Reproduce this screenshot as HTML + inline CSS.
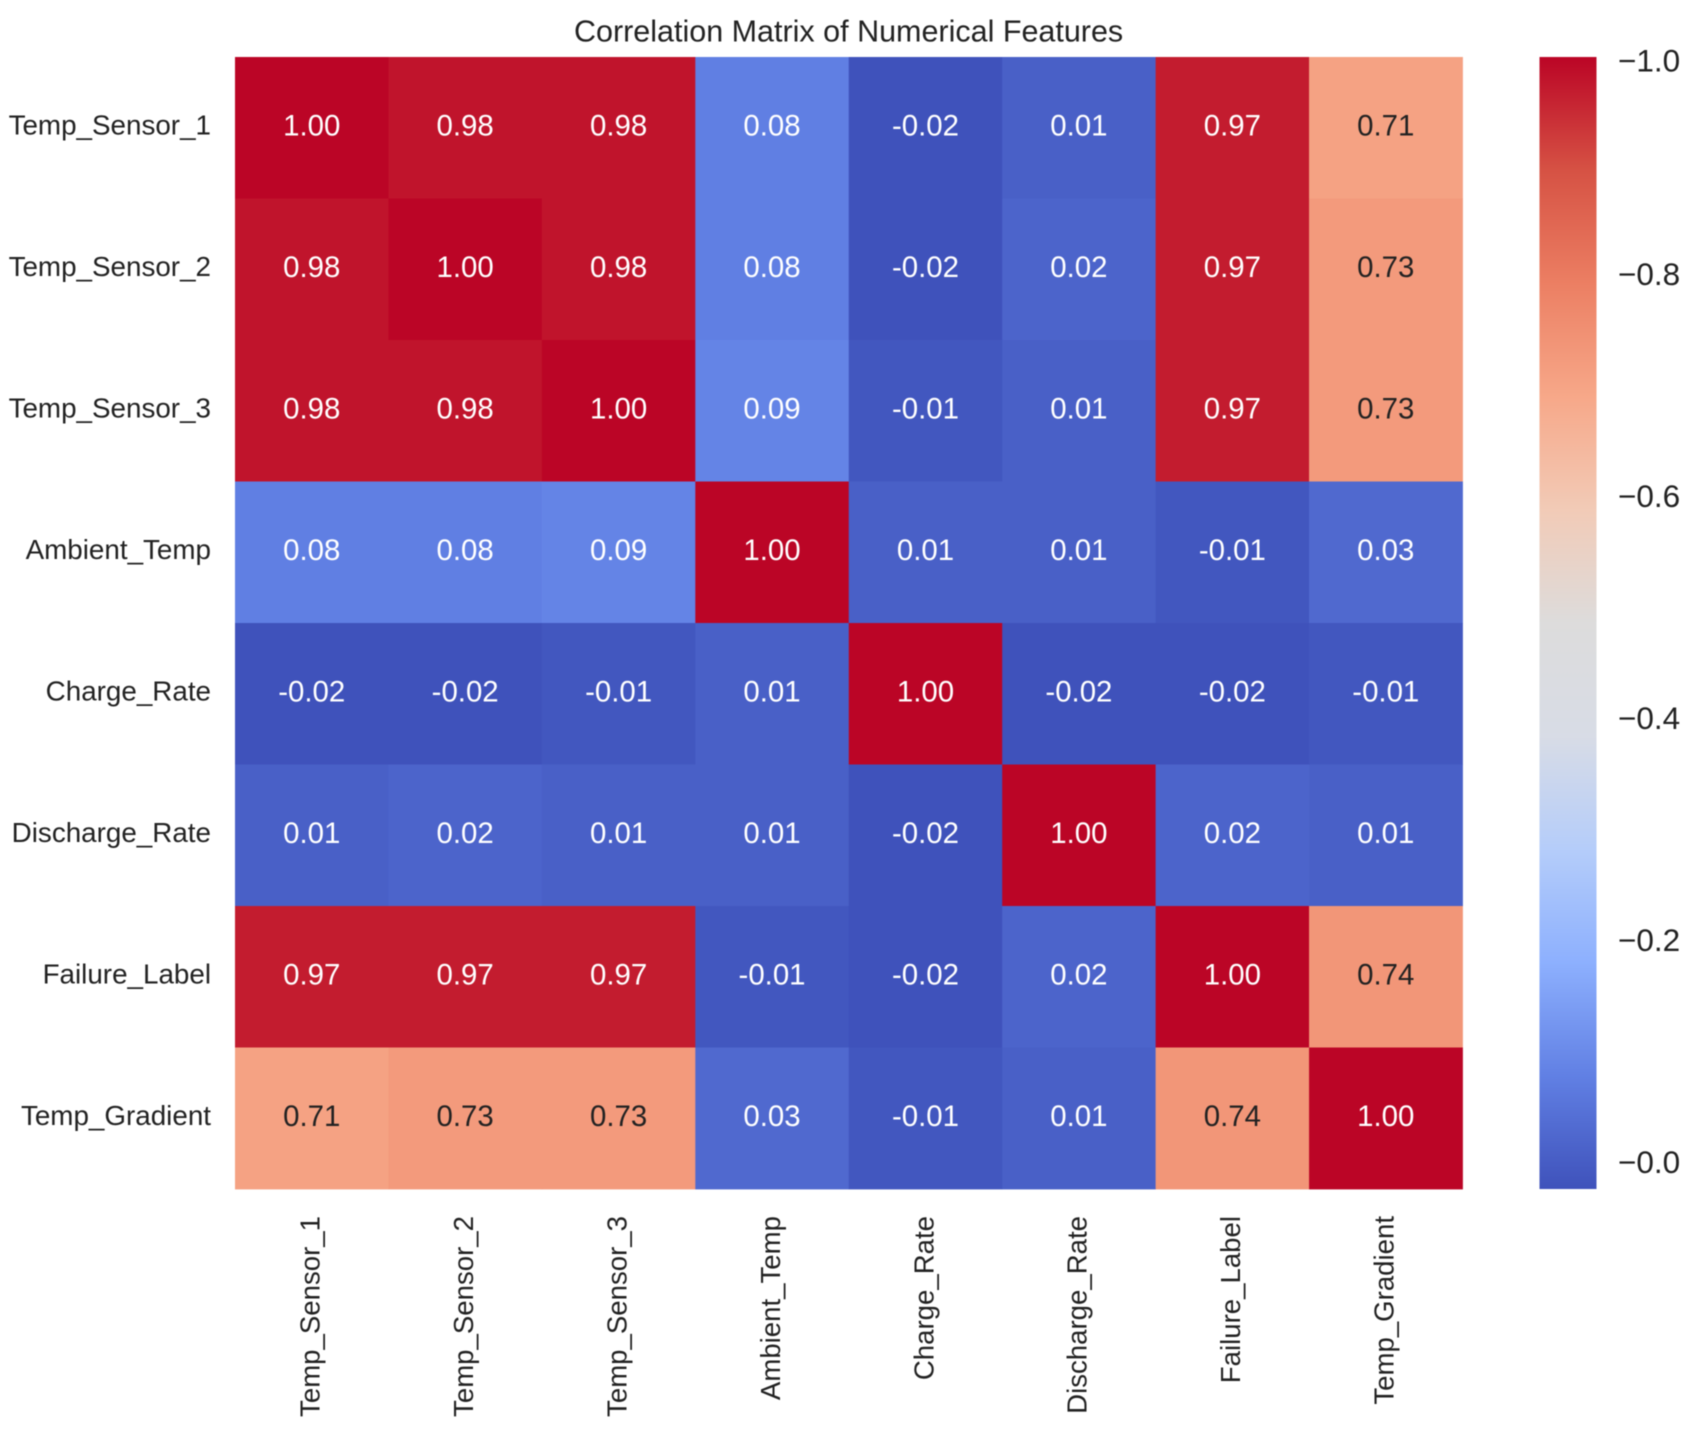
<!DOCTYPE html>
<html lang="en">
<head>
<meta charset="utf-8">
<title>Correlation Matrix of Numerical Features</title>
<style>
html,body{margin:0;padding:0;background:#fff;}
body{width:1701px;height:1431px;overflow:hidden;}
svg{display:block;filter:blur(0.6px);}
text{font-family:"Liberation Sans",sans-serif;}
</style>
</head>
<body>
<svg id="chart" width="1701" height="1431" viewBox="0 0 1701 1431" xmlns="http://www.w3.org/2000/svg">
<defs><linearGradient id="cbar-gradient" x1="0" y1="1" x2="0" y2="0"></linearGradient></defs>
<rect x="0" y="0" width="1701" height="1431" fill="#ffffff"></rect>
<text x="848.6" y="41.5" text-anchor="middle" font-size="30.5" fill="#222222">Correlation Matrix of Numerical Features</text>
<g id="cells"></g>
<g id="annotations"></g>
<g id="y-labels"></g>
<g id="x-labels"></g>
<rect id="cbar" x="1539.5" y="57" width="57" height="1132" fill="url(#cbar-gradient)"></rect>
<g id="cbar-ticks"></g>
</svg>
<script>
const features = ["Temp_Sensor_1","Temp_Sensor_2","Temp_Sensor_3","Ambient_Temp","Charge_Rate","Discharge_Rate","Failure_Label","Temp_Gradient"];
const rowTempSensor1 = [1.00,0.98,0.98,0.08,-0.02,0.01,0.97,0.71];
const rowTempSensor2 = [0.98,1.00,0.98,0.08,-0.02,0.02,0.97,0.73];
const rowTempSensor3 = [0.98,0.98,1.00,0.09,-0.01,0.01,0.97,0.73];
const rowAmbientTemp = [0.08,0.08,0.09,1.00,0.01,0.01,-0.01,0.03];
const rowChargeRate = [-0.02,-0.02,-0.01,0.01,1.00,-0.02,-0.02,-0.01];
const rowDischargeRate = [0.01,0.02,0.01,0.01,-0.02,1.00,0.02,0.01];
const rowFailureLabel = [0.97,0.97,0.97,-0.01,-0.02,0.02,1.00,0.74];
const rowTempGradient = [0.71,0.73,0.73,0.03,-0.01,0.01,0.74,1.00];
const matrix = [rowTempSensor1,rowTempSensor2,rowTempSensor3,rowAmbientTemp,rowChargeRate,rowDischargeRate,rowFailureLabel,rowTempGradient];
const colorbarTicks = [1.0,0.8,0.6,0.4,0.2,0.0];

const NS = "http://www.w3.org/2000/svg";
const plot = {left:235, top:57, right:1462.5, bottom:1189};
const cbarBox = {top:57, bottom:1189, labelX:1618};
const domainMin = -0.02, domainMax = 1.0;
const ramp = [[63,82,187],[97,128,228],[141,176,254],[181,205,250],[216,220,230],[221,220,220],[242,203,183],[247,168,137],[236,127,99],[214,82,68],[187,5,38]];

function colormap(v){
  const t = Math.min(1, Math.max(0, (v - domainMin) / (domainMax - domainMin))) * (ramp.length - 1);
  const i = Math.min(ramp.length - 2, Math.floor(t));
  const f = t - i;
  return ramp[i].map((c, k) => Math.round(c + (ramp[i + 1][k] - c) * f));
}
function rgb(c){ return "rgb(" + c.join(",") + ")"; }
function luminance(c){
  const l = c.map(x => { const s = x / 255; return s <= 0.03928 ? s / 12.92 : Math.pow((s + 0.055) / 1.055, 2.4); });
  return 0.2126 * l[0] + 0.7152 * l[1] + 0.0722 * l[2];
}
const cellW = (plot.right - plot.left) / features.length;
const cellH = (plot.bottom - plot.top) / features.length;
function xBand(i){ return plot.left + i * cellW; }
function yBand(i){ return plot.top + i * cellH; }
function cbarY(v){ return cbarBox.bottom - (v - domainMin) / (domainMax - domainMin) * (cbarBox.bottom - cbarBox.top); }
function make(tag, attrs, parent, content){
  const el = document.createElementNS(NS, tag);
  for (const k in attrs) el.setAttribute(k, attrs[k]);
  if (content !== undefined) el.textContent = content;
  parent.appendChild(el);
  return el;
}

const cellsG = document.getElementById("cells");
const annG = document.getElementById("annotations");
matrix.forEach((row, r) => {
  row.forEach((v, c) => {
    const col = colormap(v);
    const cell = make("rect", {x:xBand(c), y:yBand(r), width:cellW + 0.4, height:cellH + 0.4, fill:rgb(col)}, cellsG);
    
    
    const label = make("text", {x:xBand(c) + cellW / 2, y:yBand(r) + cellH / 2 - 2.8 + 10.5, "text-anchor":"middle", "font-size":29.4, fill:luminance(col) > 0.408 ? "#222222" : "#ffffff"}, annG, v.toFixed(2));
    
    
  });
});

const yG = document.getElementById("y-labels");
const xG = document.getElementById("x-labels");
features.forEach((name, i) => {
  const yl = make("text", {x:211, y:yBand(i) + cellH / 2 - 3.4 + 9.9, "text-anchor":"end", "font-size":27.8, fill:"#222222"}, yG, name);
  
  
  const cx = xBand(i) + cellW / 2 - 2;
  const xl = make("text", {x:0, y:0, "text-anchor":"end", "font-size":27.6, fill:"#222222", transform:"translate(" + (cx + 9.8) + ",1216) rotate(-90)"}, xG, name);
  
  
});

const gradient = document.getElementById("cbar-gradient");
ramp.forEach((c, i) => {
  const stop = make("stop", {offset:i / (ramp.length - 1), "stop-color":rgb(c)}, gradient);
  
  
});

const tickG = document.getElementById("cbar-ticks");
colorbarTicks.forEach(v => {
  const centerY = Math.max(cbarY(v) - 5.2, 60.5);
  const t = make("text", {x:cbarBox.labelX, y:centerY + 11.2, "font-size":31.5, fill:"#222222"}, tickG, "\u2212" + v.toFixed(1));
  
  
});
</script>
</body>
</html>
